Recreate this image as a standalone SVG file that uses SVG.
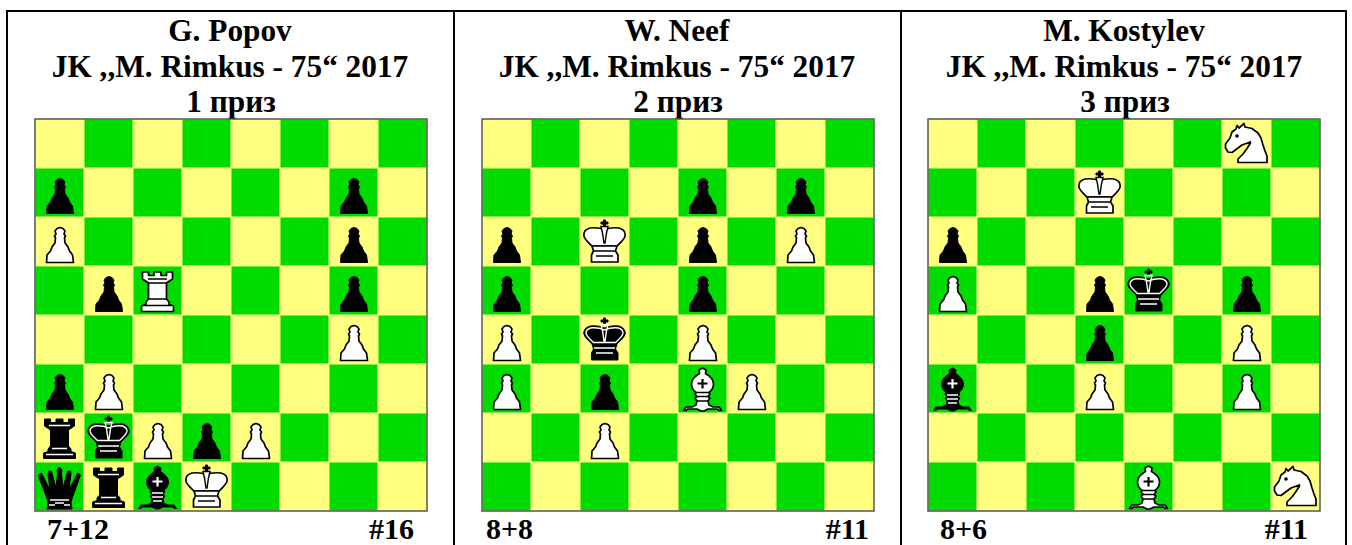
<svg xmlns="http://www.w3.org/2000/svg" xmlns:xlink="http://www.w3.org/1999/xlink" width="1352" height="545" viewBox="0 0 1352 545">
<style>
text{font-family:"Liberation Serif","Noto Sans CJK SC",serif;font-weight:bold;font-size:31.300px;fill:#000}
.m{text-anchor:middle}.e{text-anchor:end}
.foot{font-size:30px}
.frame{fill:#000}
.b{fill:#000;stroke:#000;stroke-width:1;stroke-linejoin:round}
.w{fill:#fff;stroke:#000;stroke-width:1.7;stroke-linejoin:round}
.wl{fill:none;stroke:#fff;stroke-width:1.400}
.kl{fill:none;stroke:#000;stroke-width:1.400}
</style>
<defs>
<pattern id="chk" patternUnits="userSpaceOnUse" width="98" height="98">
<rect width="98" height="98" fill="#ffff80"/>
<rect x="49.500" y="0.500" width="48" height="48" fill="#00dc00"/>
<rect x="0.500" y="49.500" width="48" height="48" fill="#00dc00"/>
</pattern>
<path id="pawn" d="M25 10.500L28 11.500L30 14L29 17L30.500 19L29.500 21L30 26L33 30L34.500 34L37.500 38L38.500 45.500L11.500 45.500L12 38L15.500 34L17 30L20 26L20.500 21L19.500 19L21 17L20 14L22 11.500Z"/>
<path id="rook" d="M9.500 6H15.500V9.500H21V6H28V9.500H33.500V6H39.500V13L33.500 17V33L36 36V38.500L40.500 40V45.500H8.500V40L13 38.500V36L15.500 33V17L9.500 13Z"/>
<path id="crown" d="M24.500 13C21 11 15 10.500 10 11C6 12 3.800 15 3.800 18C3.800 22 9 26 12 29H37C40 26 45.200 22 45.200 18C45.200 15 43 12 39 11C34 10.500 28 11 24.500 13Z"/>
<path id="kbase" d="M12 29H37L35.500 34L38 38V45H11.500V38L13.500 34Z"/>
<path id="bishop" d="M24.500 4L28 6L27.500 9.500C32 12 35.500 16 35.500 20C35.500 24 33 27 31 28.500L32 30L30 32.500L32 34L30 37L31 41L35 43H41L43.500 46.500H41L39.500 45H30L26 47H23L19 45H9.500L8 46.500H5.500L8 43H14L18 41L19 37L17 34L19 32.500L17 30L18 28.500C16 27 13.500 24 13.500 20C13.500 16 17 12 21.500 9.500L21 6Z"/>
<path id="cross" d="M23.500 3H25.500V5H28V7H25.500V9.500H23.500V7H21V5H23.500Z"/>
<g id="bP"><use href="#pawn" class="b"/></g>
<g id="wP"><use href="#pawn" class="w"/></g>
<g id="bR"><use href="#rook" class="b"/><path class="wl" d="M14 12.500H35M17 35.500H32M11 41.500H38"/></g>
<g id="wR"><use href="#rook" class="w"/><path class="kl" d="M15 13H34M15.500 17H33.500M15.500 33H33.500M11 39.500H38"/></g>
<g id="bQ"><path class="b" d="M24.500 5L27 8L26.500 12L28 26L32.500 9.500L35.500 9L36 12L34 28L41 14L42.500 11L45.500 13L44 17L38 34L36 40L37 47H12L13 40L11 34L4.500 17L3.500 13L6.500 11L8 14L15 28L13 12L13.500 9L16.500 9.500L21 26L22.500 12L22 8Z"/><path class="wl" d="M15 38H34M14 43H20M29 43H35M20 41H29"/></g>
<g id="bK"><use href="#cross" class="b"/><use href="#crown" class="b"/><use href="#kbase" class="b"/><path class="wl" d="M24.500 15C20 13 15 12.500 10.500 13C7.500 14 6 16 6 18C6 21 11 25 13.500 27.500H35.500C38 25 43 21 43 18C43 16 41.500 14 38.500 13C34 12.500 29 13 24.500 15M21 9.500H28L26.500 16L25 26H24L22.500 16ZM14 33H35M16 38H33"/></g>
<g id="wK"><use href="#cross" class="b"/><use href="#crown" class="w"/><use href="#kbase" class="w"/><path class="kl" d="M21 9.500H28L26.500 16L25 26H24L22.500 16Z" style="fill:#fff"/><path class="kl" d="M14 34H35M16 39H33"/></g>
<g id="bB"><use href="#bishop" class="b"/><path class="wl" style="stroke-width:2.200px" d="M24.500 15V24.500M19.500 19.500H29.500"/><path class="wl" d="M19 31H30M19 35H30M20 39H29"/></g>
<g id="wB"><use href="#bishop" class="w"/><path class="kl" style="stroke-width:2.200px" d="M24.500 15V24.500M19.500 19.500H29.500"/><path class="kl" d="M18 28.500H31M19 32.500H30M19 37H30"/></g>
<g id="wN"><path class="w" d="M15 6.500L17 9L22 4.500L23 8L30 9.500L36 14L39 19L41 26L43 32L45 37L45 43.500H16V40L21 35L25 29.500L28.500 24L24 24.500L20 26L16 29L10 33.500L6 33L3.500 29L3.500 25L8 19L10 13L14 10Z"/><circle cx="15" cy="17" r="1.800"/><path class="kl" d="M25 24.500L29 22.500"/></g>
</defs>
<g id="frame">
<rect class="frame" x="6" y="10" width="1341" height="2"/>
<rect class="frame" x="6" y="10" width="2" height="535"/>
<rect class="frame" x="453" y="10" width="2" height="535"/>
<rect class="frame" x="900" y="10" width="2" height="535"/>
<rect class="frame" x="1345" y="10" width="2" height="535"/>
</g>
<g id="problem-1">
<text class="m" x="230" y="41">G. Popov</text>
<text class="m" x="230" y="76.500">JK ,,M. Rimkus - 75“ 2017</text>
<text class="m" x="231" y="112">1 приз</text>
<text class="foot" x="47" y="538.500">7+12</text>
<text class="foot e" x="414" y="538.500">#16</text>
<g transform="translate(35 119)">
<rect width="392" height="392" fill="url(#chk)" stroke="#555" stroke-width="1.500"/>
<use href="#bP" x="0" y="49"/><use href="#bP" x="294" y="49"/>
<use href="#wP" x="0" y="98"/><use href="#bP" x="294" y="98"/>
<use href="#bP" x="49" y="147"/><use href="#wR" x="98" y="147"/><use href="#bP" x="294" y="147"/>
<use href="#wP" x="294" y="196"/>
<use href="#bP" x="0" y="245"/><use href="#wP" x="49" y="245"/>
<use href="#bR" x="0" y="294"/><use href="#bK" x="49" y="294"/><use href="#wP" x="98" y="294"/><use href="#bP" x="147" y="294"/><use href="#wP" x="196" y="294"/>
<use href="#bQ" x="0" y="343"/><use href="#bR" x="49" y="343"/><use href="#bB" x="98" y="343"/><use href="#wK" x="147" y="343"/>
</g>
</g>
<g id="problem-2">
<text class="m" x="677" y="41">W. Neef</text>
<text class="m" x="677" y="76.500">JK ,,M. Rimkus - 75“ 2017</text>
<text class="m" x="678" y="112">2 приз</text>
<text class="foot" x="486" y="538.500">8+8</text>
<text class="foot e" x="869" y="538.500">#11</text>
<g transform="translate(482 119)">
<rect width="392" height="392" fill="url(#chk)" stroke="#555" stroke-width="1.500"/>
<use href="#bP" x="196" y="49"/><use href="#bP" x="294" y="49"/>
<use href="#bP" x="0" y="98"/><use href="#wK" x="98" y="98"/><use href="#bP" x="196" y="98"/><use href="#wP" x="294" y="98"/>
<use href="#bP" x="0" y="147"/><use href="#bP" x="196" y="147"/>
<use href="#wP" x="0" y="196"/><use href="#bK" x="98" y="196"/><use href="#wP" x="196" y="196"/>
<use href="#wP" x="0" y="245"/><use href="#bP" x="98" y="245"/><use href="#wB" x="196" y="245"/><use href="#wP" x="245" y="245"/>
<use href="#wP" x="98" y="294"/>
</g>
</g>
<g id="problem-3">
<text class="m" x="1124" y="41">M. Kostylev</text>
<text class="m" x="1124" y="76.500">JK ,,M. Rimkus - 75“ 2017</text>
<text class="m" x="1125" y="112">3 приз</text>
<text class="foot" x="940" y="538.500">8+6</text>
<text class="foot e" x="1308" y="538.500">#11</text>
<g transform="translate(928 119)">
<rect width="392" height="392" fill="url(#chk)" stroke="#555" stroke-width="1.500"/>
<use href="#wN" x="294" y="0"/>
<use href="#wK" x="147" y="49"/>
<use href="#bP" x="0" y="98"/>
<use href="#wP" x="0" y="147"/><use href="#bP" x="147" y="147"/><use href="#bK" x="196" y="147"/><use href="#bP" x="294" y="147"/>
<use href="#bP" x="147" y="196"/><use href="#wP" x="294" y="196"/>
<use href="#bB" x="0" y="245"/><use href="#wP" x="147" y="245"/><use href="#wP" x="294" y="245"/>
<use href="#wB" x="196" y="343"/><use href="#wN" x="343" y="343"/>
</g>
</g>
</svg>
